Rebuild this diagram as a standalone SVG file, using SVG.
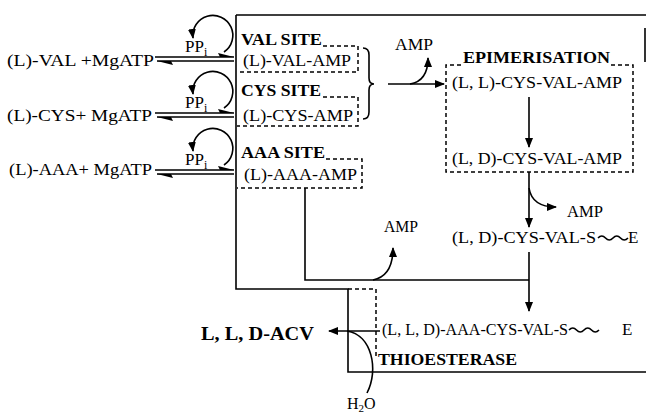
<svg xmlns="http://www.w3.org/2000/svg" width="646" height="413" viewBox="0 0 646 413">
<defs>
<style>
text{font-family:"Liberation Serif","Times New Roman",serif;fill:#000;font-size:17px}
.b{font-weight:bold;font-size:16px}
.s{font-size:16px}
.ln{fill:none;stroke:#000;stroke-width:1.6}
.ds{fill:none;stroke:#000;stroke-width:1.5;stroke-dasharray:4 3}
.fill{fill:#000;stroke:none}
</style>
<marker id="ah" markerUnits="userSpaceOnUse" markerWidth="10" markerHeight="8" refX="9" refY="4" orient="auto">
<path d="M0,0 L10,4 L0,8 Z" fill="#000"/>
</marker>
</defs>
<rect width="646" height="413" fill="#fff"/>

<g id="connectors">
<path class="ln" d="M236 15 H646 M236 15 V289 H348 V372 H646"/>
<path class="ln" d="M645 28 V62"/>
<path class="ln" d="M305 188 V280 H529"/>
<path class="ln" d="M529 252 V311" marker-end="url(#ah)"/>
<path class="ln" d="M529 172 V227" marker-end="url(#ah)"/>
<path class="ln" d="M529 97 V147" marker-end="url(#ah)"/>
<path class="ln" d="M388 84 H444" marker-end="url(#ah)"/>
<path class="ln" d="M410 84 Q428 81 428 58" marker-end="url(#ah)"/>
<path class="ln" d="M529 188 Q532 207 556 207" marker-end="url(#ah)"/>
<path class="ln" d="M373 280 Q393 276 393 248" marker-end="url(#ah)"/>
<path class="ln" d="M380 331 H329" marker-end="url(#ah)"/>
<path class="ln" d="M347 331 C372 335 379 370 367 393"/>
<path class="ln" d="M363 48 Q369 48 369 55 V78 Q369 84 374 84 Q369 84 369 90 V112 Q369 119 363 119"/>
<path class="ln" d="M155 57 H234 M157 61 H234"/>
<path class="fill" d="M234 57 L218 53 L220 57 Z M157 61 L173 65 L171 61 Z"/>
<path class="ln" d="M224 52 A20 20 0 1 0 193 38" marker-end="url(#ah)"/>
<path class="ln" d="M155 113 H234 M157 117 H234"/>
<path class="fill" d="M234 113 L218 109 L220 113 Z M157 117 L173 121 L171 117 Z"/>
<path class="ln" d="M224 108 A20 20 0 1 0 193 94" marker-end="url(#ah)"/>
<path class="ln" d="M155 170 H234 M157 174 H234"/>
<path class="fill" d="M234 170 L218 166 L220 170 Z M157 174 L173 178 L171 174 Z"/>
<path class="ln" d="M224 165 A20 20 0 1 0 193 151" marker-end="url(#ah)"/>
<path class="ln" d="M598 238 q3.75 -4 7.5 0 t7.5 0 t7.5 0 t7.5 0"/>
<path class="ln" d="M569 330 q3.75 -4 7.5 0 t7.5 0 t7.5 0 t7.5 0"/>
</g>

<g id="substrates">
<text x="7" y="66" textLength="147" lengthAdjust="spacingAndGlyphs">(L)-VAL +MgATP</text>
<text x="7" y="121" textLength="145" lengthAdjust="spacingAndGlyphs">(L)-CYS+ MgATP</text>
<text x="9" y="175" textLength="143" lengthAdjust="spacingAndGlyphs">(L)-AAA+ MgATP</text>
<text x="185" y="52" style="font-size:17px">PP<tspan font-size="12" dy="4">i</tspan></text>
<text x="185" y="108" style="font-size:17px">PP<tspan font-size="12" dy="4">i</tspan></text>
<text x="185" y="165" style="font-size:17px">PP<tspan font-size="12" dy="4">i</tspan></text>
</g>

<g id="val-site">
<path class="ds" d="M323 46 H358 V72 H237"/>
<text class="b" x="241" y="45" textLength="81" lengthAdjust="spacingAndGlyphs">VAL SITE</text>
<text x="243" y="66" textLength="108" lengthAdjust="spacingAndGlyphs">(L)-VAL-AMP</text>
</g>

<g id="cys-site">
<path class="ds" d="M323 97 H358 V126 H237"/>
<text class="b" x="241" y="96" textLength="80" lengthAdjust="spacingAndGlyphs">CYS SITE</text>
<text x="243" y="121" textLength="110" lengthAdjust="spacingAndGlyphs">(L)-CYS-AMP</text>
</g>

<g id="aaa-site">
<path class="ds" d="M326 159 H362 V188 H237"/>
<text class="b" x="241" y="158" textLength="84" lengthAdjust="spacingAndGlyphs">AAA SITE</text>
<text x="244" y="180" textLength="113" lengthAdjust="spacingAndGlyphs">(L)-AAA-AMP</text>
</g>

<g id="amp-top">
<text class="s" x="395" y="50" textLength="38" lengthAdjust="spacingAndGlyphs">AMP</text>
</g>

<g id="epimerisation">
<path class="ds" d="M461 65 H446 V172 H633 V65 H611"/>
<text class="b" x="463" y="63" textLength="147" lengthAdjust="spacingAndGlyphs">EPIMERISATION</text>
<text x="452" y="88" textLength="170" lengthAdjust="spacingAndGlyphs">(L, L)-CYS-VAL-AMP</text>
<text x="452" y="164" textLength="170" lengthAdjust="spacingAndGlyphs">(L, D)-CYS-VAL-AMP</text>
</g>

<g id="amp-right">
<text class="s" x="567" y="217" textLength="36" lengthAdjust="spacingAndGlyphs">AMP</text>
</g>

<g id="cys-val-thioester">
<text x="452" y="243" textLength="144" lengthAdjust="spacingAndGlyphs">(L, D)-CYS-VAL-S</text>
<text x="628" y="243">E</text>
</g>

<g id="amp-middle">
<text class="s" x="384" y="232" textLength="34" lengthAdjust="spacingAndGlyphs">AMP</text>
</g>

<g id="thioesterase">
<path class="ds" d="M348 289 H376 V357"/>
<text class="b" x="378" y="365" textLength="139" lengthAdjust="spacingAndGlyphs">THIOESTERASE</text>
</g>

<g id="tripeptide">
<text x="382" y="335" textLength="186" lengthAdjust="spacingAndGlyphs">(L, L, D)-AAA-CYS-VAL-S</text>
<text x="622" y="335">E</text>
</g>

<g id="acv">
<text class="b" x="201" y="340" style="font-size:19px" textLength="113" lengthAdjust="spacingAndGlyphs">L, L, D-ACV</text>
</g>

<g id="water">
<text x="347" y="409" style="font-size:16px">H<tspan font-size="11" dy="3">2</tspan><tspan dy="-3">O</tspan></text>
</g>
</svg>
